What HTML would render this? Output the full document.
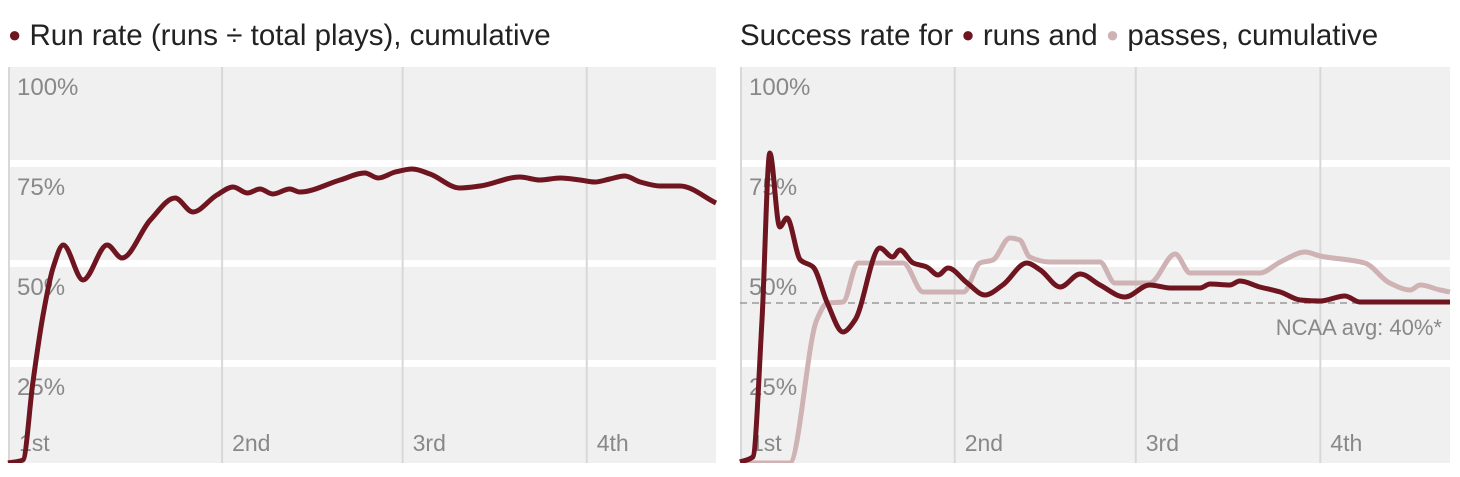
<!DOCTYPE html>
<html><head><meta charset="utf-8"><style>
body{margin:0;background:#fff;width:1460px;height:472px;overflow:hidden;font-family:"Liberation Sans",sans-serif}
</style></head><body>
<svg id="c" width="1460" height="472" xmlns="http://www.w3.org/2000/svg"><defs><clipPath id="clp"><rect x="0" y="60" width="1460" height="403"/></clipPath></defs></svg>
<script>
const yTicks=[100,75,50,25];
const yTickLabels=["100%","75%","50%","25%"];
const quarterStarts=[0,30.1,55.6,81.6];
const quarterLabels=["1st","2nd","3rd","4th"];
const ncaaAvg=40;
const runRateX=[0,2.1,3.5,4.9,6.4,7.8,10.6,14,16.1,20.1,23.6,26.1,29.5,31.8,33.8,35.6,37.4,39.8,41.2,46.9,50.4,52.3,54.7,57.1,59.6,63.8,66.7,72.3,75.1,78,80.8,82.9,85,87.1,89.3,92.1,94.9,100];
const runRateY=[0,0.75,20,36.5,49,54.5,45.75,54.5,51.25,60.75,66.25,62.75,67,69,67.5,68.5,67.25,68.5,67.75,70.75,72.5,71.25,72.75,73.5,72.25,68.75,69.25,71.5,70.75,71.25,70.75,70.25,71,71.75,70.25,69.25,69.25,65];
const runSuccX=[0,1.8,3.1,4.2,5.6,6.6,8.5,10.3,12.3,14.5,16.2,19.7,21.5,22.5,24.4,26.3,27.9,29.3,32,34.5,37,40.4,42.3,45.1,47.9,50.7,54.2,57.7,60.6,64.8,66.2,69,70.4,73.2,76.1,78.9,81.7,85.2,87.3,100];
const runSuccY=[0.25,1.5,35.75,77.5,59,61.25,50.75,49,40,32.75,35.75,53.75,51.5,53.25,50,49,47,48.75,45,42,44.5,50,48.25,44,47.25,44.5,41.5,44.5,43.75,43.75,44.75,44.5,45.5,44,42.75,40.75,40.5,41.75,40.25,40.25];
const passSuccX=[0,7,10.8,12.3,14.5,16.6,23,25.8,31.5,33.8,35.6,38,39.4,40.8,43.7,50.7,52.8,57.7,61.3,63.4,73.2,76.1,79.6,81.7,88,91.5,94.4,95.8,98.6,100];
const passSuccY=[0,0,35.75,40,40.25,50,50,42.75,42.75,50,50.75,56.25,55.75,51.5,50.25,50.25,45,45,52.25,47.5,47.5,50.25,52.75,51.75,50,45,43.25,44.5,43.25,42.75];

const svg=document.getElementById('c');const NS='http://www.w3.org/2000/svg';
function mk(t,a,p){const e=document.createElementNS(NS,t);for(const k in a)e.setAttribute(k,a[k]);(p||svg).appendChild(e);return e;}
const yS=v=>463-4*v;
const DARK='#6e1520',LIGHT='#cfb2b4';
function path(xs,ys,xS){const P=xs.map((x,i)=>[xS(x),yS(ys[i])]);const n=P.length;
 const dx=[],s=[];for(let i=0;i<n-1;i++){dx[i]=P[i+1][0]-P[i][0];s[i]=(P[i+1][1]-P[i][1])/dx[i];}
 const m=[];m[0]=s[0];m[n-1]=s[n-2];
 for(let i=1;i<n-1;i++){if(s[i-1]*s[i]<=0)m[i]=0;else{const w1=2*dx[i]+dx[i-1],w2=dx[i]+2*dx[i-1];m[i]=(w1+w2)/(w1/s[i-1]+w2/s[i]);}}
 let d='M'+P[0][0].toFixed(1)+','+P[0][1].toFixed(1);
 for(let i=0;i<n-1;i++){const h=dx[i]/3;
  d+=`C${(P[i][0]+h).toFixed(1)},${(P[i][1]+m[i]*h).toFixed(1)} ${(P[i+1][0]-h).toFixed(1)},${(P[i+1][1]-m[i+1]*h).toFixed(1)} ${P[i+1][0].toFixed(1)},${P[i+1][1].toFixed(1)}`;}
 return d;}
function panel(x0,w,name){
 const g=mk('g',{});
 const xS=v=>x0+v/100*w;
 yTicks.forEach((t,i)=>{const top=yS(t)+4,bot=i==3?463:yS(t-25)-3;
  const r=mk('rect',{x:x0,y:top,width:w,height:bot-top,fill:'#f0f0f0'},g);});
 quarterStarts.forEach((q,i)=>{const l=mk('line',{x1:xS(q)+1,x2:xS(q)+1,y1:67,y2:463,stroke:'#d8d8d8','stroke-width':2},g);
  const t=mk('text',{x:xS(q)+11,y:451,'font-size':23,fill:'#888'},g);t.textContent=quarterLabels[i];});
 yTicks.forEach((v,i)=>{const t=mk('text',{x:x0+9,y:yS(v)+32,'font-size':24,fill:'#888'},g);t.textContent=yTickLabels[i];});
 return {g,xS};
}
const L=panel(8,708,'run-rate-panel');
let p=mk('path',{d:path(runRateX,runRateY,L.xS),fill:'none',stroke:DARK,'stroke-width':5,'stroke-linejoin':'round','clip-path':'url(#clp)'},L.g);

const R=panel(740,710,'success-rate-panel');
const dl=mk('line',{x1:740,x2:1450,y1:yS(ncaaAvg),y2:yS(ncaaAvg),stroke:'#999','stroke-width':1.5,'stroke-dasharray':'7,5'},R.g);

const nt=mk('text',{x:1442,y:yS(ncaaAvg)+32,'font-size':22,fill:'#888','text-anchor':'end'},R.g);nt.textContent='NCAA avg: 40%*';

p=mk('path',{d:path(passSuccX,passSuccY,R.xS),fill:'none',stroke:LIGHT,'stroke-width':5,'clip-path':'url(#clp)'},R.g);

p=mk('path',{d:path(runSuccX,runSuccY,R.xS),fill:'none',stroke:DARK,'stroke-width':5,'clip-path':'url(#clp)'},R.g);

</script>
<div style="position:absolute;left:8px;top:19px;font-size:29.5px;color:#222;white-space:nowrap"><span style="color:#6e1520;font-size:22px;position:relative;top:-3px">●</span> Run rate (runs ÷ total plays), cumulative</div>
<div style="position:absolute;left:740px;top:19px;font-size:29.5px;color:#222;white-space:nowrap">Success rate for <span style="color:#6e1520;font-size:22px;position:relative;top:-3px">●</span> runs and <span style="color:#cfb2b4;font-size:22px;position:relative;top:-3px">●</span> passes, cumulative</div>
</body></html>
